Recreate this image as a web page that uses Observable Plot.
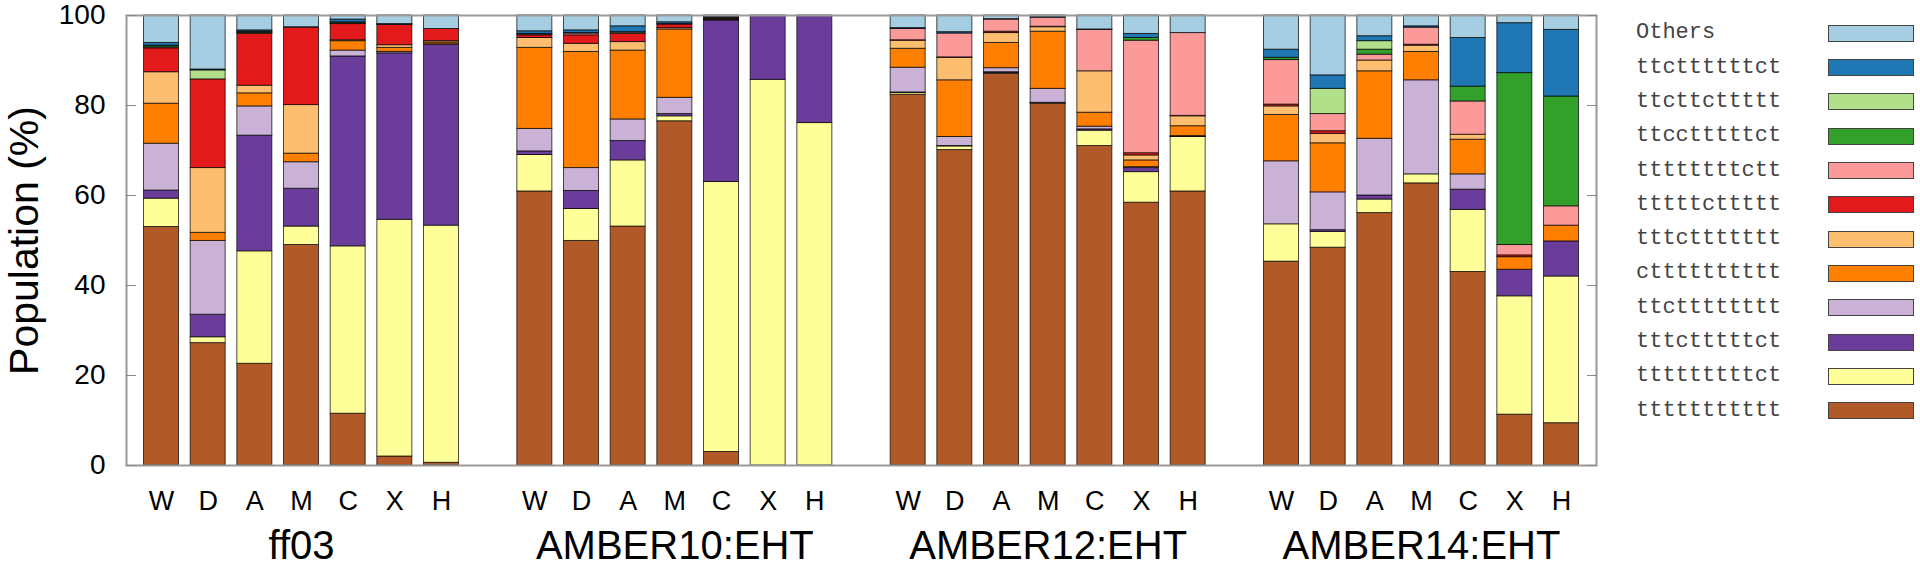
<!DOCTYPE html>
<html>
<head>
<meta charset="utf-8">
<script src="https://cdn.jsdelivr.net/npm/d3@7"></script>
<script src="https://cdn.jsdelivr.net/npm/@observablehq/plot@0.6"></script>
<style>
  html, body { margin: 0; padding: 0; background: #fff; }
  #wrap { position: relative; width: 1920px; height: 578px; overflow: hidden; }
  #legend { position: absolute; left: 0; top: 0; width: 1920px; height: 578px; pointer-events: none; }
  .lg-label { position: absolute; left: 1636px; font-family: "Liberation Mono", "Courier New", monospace; font-size: 22px; color: #444; line-height: 22px; white-space: pre; }
  .lg-swatch { position: absolute; left: 1828px; width: 86px; height: 17px; box-sizing: border-box; border: 1.5px solid #444; }
</style>
</head>
<body>
<div id="wrap"><div id="chart"></div><div id="legend"></div></div>
<script>
// Categories
const methods = ["W", "D", "A", "M", "C", "X", "H"];
const groups = ["ff03", "AMBER10:EHT", "AMBER12:EHT", "AMBER14:EHT"];
// Series in stacking order (bottom -> top)
const seriesNames = ["ttttttttttt", "tttttttttct", "tttctttttct", "ttctttttttt", "ctttttttttt",
  "tttcttttttt", "tttttcttttt", "ttttttttctt", "ttcctttttct", "ttcttcttttt", "ttcttttttct", "Others"];
const colors = ["#b15928", "#ffff99", "#6a3d9a", "#cab2d6", "#ff7f00", "#fdbf6f",
  "#e31a1c", "#fb9a99", "#33a02c", "#b2df8a", "#1f78b4", "#a6cee3"];
const yTicks = [0, 20, 40, 60, 80, 100];

// Population (%) per method (rows W D A M C X H), columns follow seriesNames
const ff03 = [
  [53.0, 6.3, 1.8, 10.4, 8.9, 7.0, 5.3, 0.2, 0.3, 0.1, 0.6, 6.1],
  [27.2, 1.3, 5.0, 16.4, 1.8, 14.4, 19.7, 0, 0, 2.0, 0.2, 12.0],
  [22.6, 25.0, 25.7, 6.5, 2.9, 1.7, 11.5, 0.2, 0.2, 0.1, 0.3, 3.3],
  [49.0, 4.1, 8.4, 5.9, 1.9, 10.8, 17.2, 0.1, 0, 0, 0, 2.6],
  [11.5, 37.2, 42.2, 1.3, 2.1, 0.2, 3.6, 0.1, 0.2, 0.1, 0.6, 0.9],
  [2.0, 52.6, 37.0, 0.3, 0.9, 0.6, 4.5, 0.1, 0, 0, 0.1, 1.9],
  [0.6, 52.7, 40.2, 0.1, 0.4, 0.3, 2.7, 0, 0, 0, 0, 3.0]
];
const amber10 = [
  [60.9, 8.1, 0.8, 5.0, 18.0, 2.2, 0.6, 0.2, 0.1, 0, 0.6, 3.5],
  [49.9, 7.1, 4.0, 5.1, 25.8, 1.8, 1.9, 0.4, 0.1, 0, 0.6, 3.3],
  [53.1, 14.7, 4.3, 4.8, 15.3, 1.9, 1.8, 0.3, 0.1, 0, 1.3, 2.4],
  [76.5, 1.1, 0.5, 3.6, 15.2, 0.3, 0.8, 0.1, 0, 0, 0.4, 1.5],
  [3.0, 60.0, 35.9, 0.1, 0.1, 0.1, 0.1, 0.1, 0.1, 0.1, 0.1, 0.3],
  [0, 85.7, 14.3, 0, 0, 0, 0, 0, 0, 0, 0, 0],
  [0, 76.1, 23.9, 0, 0, 0, 0, 0, 0, 0, 0, 0]
];
const amber12 = [
  [82.4, 0.4, 0.1, 5.5, 4.2, 1.8, 0.1, 2.5, 0, 0, 0.2, 2.8],
  [70.1, 0.8, 0.1, 2.0, 12.6, 5.0, 0.1, 5.3, 0, 0, 0.3, 3.7],
  [87.0, 0.2, 0.2, 0.9, 5.6, 2.2, 0.3, 2.7, 0, 0, 0.1, 0.8],
  [80.4, 0.1, 0.1, 3.1, 12.7, 1.0, 0.1, 2.0, 0, 0, 0.2, 0.3],
  [71.0, 3.4, 0.3, 0.6, 3.1, 9.2, 0, 9.2, 0, 0, 0.1, 3.1],
  [58.4, 6.8, 0.9, 0.2, 1.5, 1.1, 0.5, 25.0, 0.6, 0, 0.9, 4.1],
  [60.9, 12.1, 0.1, 0.1, 2.2, 2.2, 0.1, 18.4, 0, 0, 0, 3.9]
];
const amber14 = [
  [45.3, 8.3, 0, 14.0, 10.3, 1.9, 0.4, 9.9, 0.5, 0, 1.8, 7.6],
  [48.4, 3.5, 0.4, 8.4, 10.9, 2.1, 0.6, 3.8, 0, 5.6, 3.0, 13.3],
  [56.1, 3.0, 0.9, 12.6, 15.0, 2.4, 0, 1.3, 1.1, 1.9, 1.1, 4.6],
  [62.7, 2.0, 0, 20.9, 6.3, 1.4, 0.2, 3.8, 0, 0, 0.3, 2.4],
  [43.0, 13.8, 4.5, 3.4, 7.7, 1.1, 0, 7.4, 3.3, 0, 10.8, 5.0],
  [11.3, 26.3, 5.9, 0, 2.8, 0, 0.4, 2.3, 38.2, 0, 11.1, 1.7],
  [9.4, 32.6, 7.8, 0, 3.5, 0, 0, 4.3, 24.4, 0, 14.8, 3.2]
];
const groupValues = [ff03, amber10, amber12, amber14];

// Build tidy tables
const rows = [];
const bars = [];
groupValues.forEach((g, gi) => g.forEach((vals, mi) => {
  const slot = gi * (methods.length + 1) + mi;
  bars.push({slot, method: methods[mi], group: groups[gi]});
  vals.forEach((v, si) => { if (v > 0) rows.push({slot, series: seriesNames[si], value: v}); });
}));
const groupCenters = groups.map(g => ({group: g, slot: d3.mean(bars.filter(b => b.group === g), b => b.slot)}));
const nSlots = groups.length * (methods.length + 1) - 1;
const half = 0.375;

const chart = Plot.plot({
  width: 1920,
  height: 578,
  marginLeft: 126,
  marginRight: 324,
  marginTop: 15,
  marginBottom: 113,
  x: {domain: [-0.75, nSlots - 1 + 0.75], axis: null},
  y: {domain: [0, 100], axis: null},
  color: {domain: seriesNames, range: colors},
  style: {fontFamily: "'Liberation Sans', Arial, sans-serif", color: "#000", background: "#fff"},
  marks: [
    Plot.rectY(rows, {
      x1: d => d.slot - half, x2: d => d.slot + half, y: "value",
      fill: "series", order: seriesNames,
      stroke: "#000", strokeOpacity: 0.7, strokeWidth: 1
    }),
    Plot.frame({stroke: "#999", strokeWidth: 2}),
    Plot.axisY({ticks: yTicks, tickSize: -10, tickPadding: 31, fontSize: 28, label: null, stroke: "#888", fill: "#000"}),
    Plot.axisY({anchor: "right", ticks: yTicks, tickSize: -10, tickFormat: () => "", label: null, stroke: "#888"}),
    Plot.text(bars, {x: "slot", text: "method", frameAnchor: "bottom", dy: 44.5, fontSize: 27, fill: "#000"}),
    Plot.text(groupCenters, {x: "slot", text: "group", frameAnchor: "bottom", dy: 93, fontSize: 40, fill: "#000"}),
    Plot.text(["Population (%)"], {text: d => d, frameAnchor: "left", textAnchor: "middle", dx: -102, rotate: -90, fontSize: 41, fill: "#000"})
  ]
});
document.getElementById("chart").appendChild(chart);

// Legend (top row = last series)
const legend = document.getElementById("legend");
const legendItems = seriesNames.map((s, i) => ({s, c: colors[i]})).reverse();
legendItems.forEach((d, i) => {
  const cy = 33.3 + 34.3 * i;
  const lab = document.createElement("div");
  lab.className = "lg-label";
  lab.textContent = d.s;
  lab.style.top = (cy - 11) + "px";
  legend.appendChild(lab);
  const sw = document.createElement("div");
  sw.className = "lg-swatch";
  sw.style.top = (cy - 8.5) + "px";
  sw.style.background = d.c;
  legend.appendChild(sw);
});
</script>
</body>
</html>
